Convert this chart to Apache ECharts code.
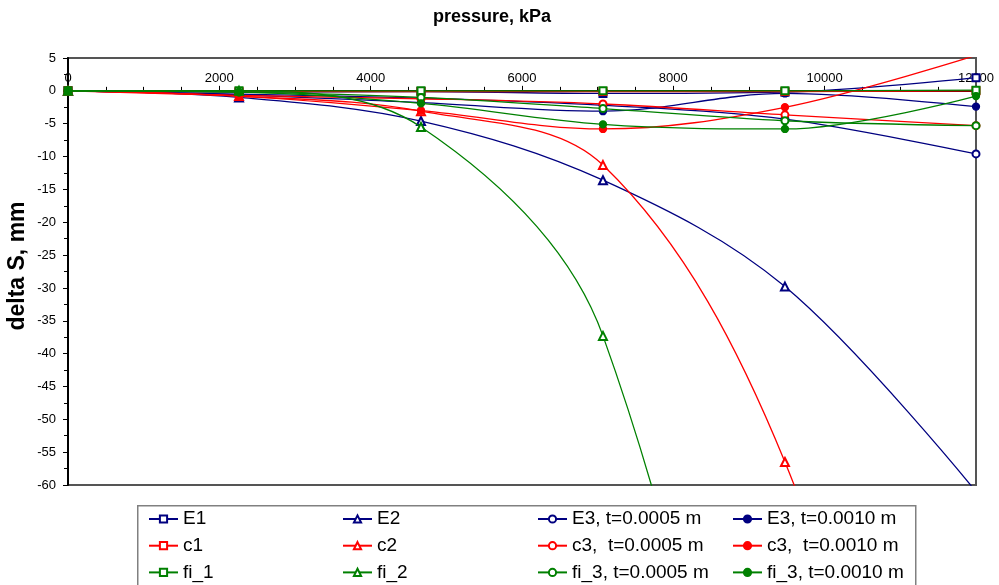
<!DOCTYPE html>
<html>
<head>
<meta charset="utf-8">
<script src="https://cdn.jsdelivr.net/npm/echarts@6/dist/echarts.min.js"></script>
<style>
  html, body { margin: 0; padding: 0; background: #fff; }
  #chart { width: 999px; height: 585px; }
</style>
</head>
<body>
<div id="chart"></div>
<script>
// ---- data ----
const pressure = [0, 2260, 4665, 7070, 9475, 12000];
const E1   = [0, -0.2, -0.1, -0.4, -0.2, 2.0];
const E2   = [0, -1.0, -4.6, -13.6, -29.8, -61];
const E3a  = [0, -0.5, -1.1, -2.2, -4.3, -9.6];
const E3b  = [0, -0.6, -1.8, -3.1, -0.4, -2.4];
const c1   = [0, -0.1, -0.1, -0.1, -0.1, 0.0];
const c2   = [0, -0.8, -3.1, -11.3, -56.5, -150];
const c3a  = [0, -0.7, -1.2, -2.0, -3.65, -5.3];
const c3b  = [0, -0.8, -3.0, -5.8, -2.5, 5.4];
const fi1  = [0, 0, 0, 0, 0, 0.1];
const fi2  = [0, 0.0, -5.5, -37.3, -160, -400];
const fi3a = [0, -0.2, -1.0, -2.7, -4.55, -5.3];
const fi3b = [0, -0.2, -1.9, -5.1, -5.8, -0.8];

const seriesNames = ['E1', 'E2', 'E3, t=0.0005 m', 'E3, t=0.0010 m',
                     'c1', 'c2', 'c3,  t=0.0005 m', 'c3,  t=0.0010 m',
                     'fi_1', 'fi_2', 'fi_3, t=0.0005 m', 'fi_3, t=0.0010 m'];
const seriesValues = [E1, E2, E3a, E3b, c1, c2, c3a, c3b, fi1, fi2, fi3a, fi3b];
const xTitle = 'pressure, kPa';
const yTitle = 'delta S, mm';

// ---- styles ----
const NAVY = '#000080', RED = '#FF0000', GREEN = '#008000';
const colors = [NAVY, NAVY, NAVY, NAVY, RED, RED, RED, RED, GREEN, GREEN, GREEN, GREEN];
const symbols = ['emptyRect', 'emptyTriangle', 'emptyCircle', 'circle',
                 'emptyRect', 'emptyTriangle', 'emptyCircle', 'circle',
                 'emptyRect', 'emptyTriangle', 'emptyCircle', 'circle'];
const FONT = '"Liberation Sans", Arial, sans-serif';

const series = seriesNames.map((name, i) => ({
  name: name,
  type: 'line',
  data: pressure.map((x, j) => [x, seriesValues[i][j]]),
  smooth: 0.35,
  symbol: symbols[i],
  symbolSize: symbols[i] === 'emptyTriangle' ? 8 : 7,
  showAllSymbol: true,
  clip: true,
  z: 2 + i * 0.01,
  lineStyle: { color: colors[i], width: 1.3 },
  itemStyle: { color: colors[i], borderColor: colors[i], borderWidth: 1.3 },
  emphasis: { disabled: true }
}));

const legendCommon = {
  orient: 'vertical',
  top: 509,
  height: 76,
  padding: 0,
  itemWidth: 29,
  itemHeight: 9,
  itemGap: 6.7,
  selectedMode: false,
  textStyle: { fontFamily: FONT, fontSize: 19, color: '#000', lineHeight: 20 }
};

const chart = echarts.init(document.getElementById('chart'), null, { renderer: 'canvas' });
chart.setOption({
  animation: false,
  backgroundColor: '#fff',
  grid: { left: 68, right: 23, top: 58, bottom: 100, outerBoundsMode: 'none', containLabel: false,
          show: true, borderColor: '#555', borderWidth: 2, backgroundColor: 'transparent' },
  xAxis: {
    type: 'value', position: 'top', min: 0, max: 12000, interval: 2000,
    axisLine: { show: true, lineStyle: { color: '#000', width: 2 } },
    axisTick: { show: true, length: 5, lineStyle: { color: '#000', width: 1 } },
    minorTick: { show: true, splitNumber: 4, length: 4, lineStyle: { color: '#000', width: 1 } },
    splitLine: { show: false },
    axisLabel: { inside: true, margin: 14, fontFamily: FONT, fontSize: 13, color: '#000',
                 formatter: v => String(v) }
  },
  yAxis: {
    type: 'value', min: -60, max: 5, interval: 5,
    axisLine: { show: true, onZero: false, lineStyle: { color: '#000', width: 2 } },
    axisTick: { show: true, length: 5, lineStyle: { color: '#000', width: 1 } },
    minorTick: { show: true, splitNumber: 2, length: 4, lineStyle: { color: '#000', width: 1 } },
    splitLine: { show: false },
    axisLabel: { margin: 12, fontFamily: FONT, fontSize: 13, color: '#000', formatter: v => String(v) }
  },
  legend: [
    Object.assign({ left: 148, data: [seriesNames[0], seriesNames[4], seriesNames[8]] }, legendCommon),
    Object.assign({ left: 342, data: [seriesNames[1], seriesNames[5], seriesNames[9]] }, legendCommon),
    Object.assign({ left: 537, data: [seriesNames[2], seriesNames[6], seriesNames[10]] }, legendCommon),
    Object.assign({ left: 732, data: [seriesNames[3], seriesNames[7], seriesNames[11]] }, legendCommon)
  ],
  graphic: [
    { type: 'rect', left: 137, top: 505, z: -1,
      shape: { width: 778, height: 100 },
      style: { fill: '#fff', stroke: '#808080', lineWidth: 1.5 } },
    { type: 'text', x: 492, y: 17, z: 10,
      style: { text: xTitle, font: 'bold 18px ' + FONT, fill: '#000', textAlign: 'center', textVerticalAlign: 'middle' } },
    { type: 'text', x: 18, y: 266, rotation: Math.PI / 2, z: 10,
      style: { text: yTitle, font: 'bold 23px ' + FONT, fill: '#000', textAlign: 'center', textVerticalAlign: 'middle' } }
  ],
  series: series
});
</script>
</body>
</html>
